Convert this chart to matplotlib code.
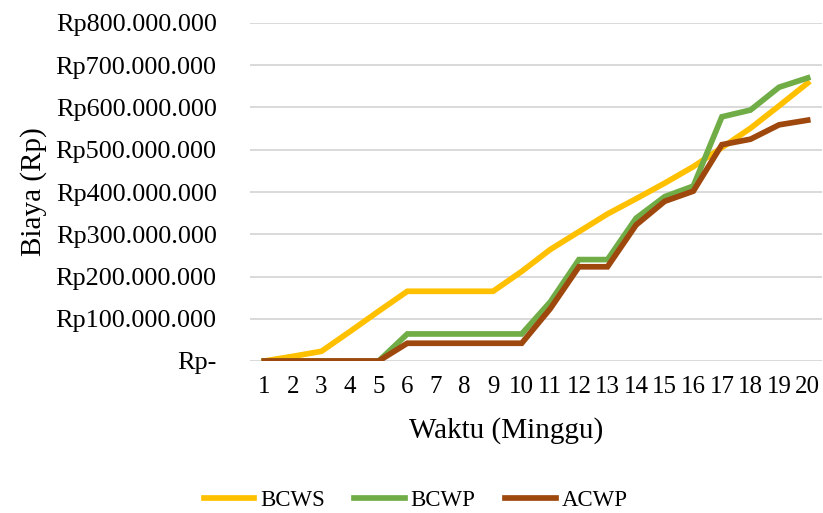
import matplotlib
matplotlib.use("Agg")
import matplotlib.pyplot as plt
from matplotlib.ticker import FuncFormatter, MultipleLocator

plt.rcParams['font.family'] = ['Liberation Serif', 'DejaVu Serif']

# minggu ke-
minggu = list(range(1, 21))

# nilai kumulatif (Rp)
bcws = [0, 11e6, 23e6, 70e6, 118e6, 165e6, 165e6, 165e6, 165e6, 212e6,
        264e6, 306e6, 348e6, 384e6, 421e6, 460e6, 505e6, 551e6, 604e6, 658e6]
bcwp = [0, 0, 0, 0, 0, 64e6, 64e6, 64e6, 64e6, 64e6,
        140e6, 240e6, 240e6, 338e6, 389e6, 414e6, 578e6, 594e6, 648e6, 670e6]
acwp = [0, 0, 0, 0, 0, 42e6, 42e6, 42e6, 42e6, 42e6,
        124e6, 223e6, 223e6, 322e6, 378e6, 402e6, 512e6, 525e6, 559e6, 570e6]

fig = plt.figure(figsize=(8.23, 5.13), dpi=100)
ax = fig.add_axes([250 / 823, 152 / 513, 572 / 823, 338 / 513])

lw = 4.1
ax.plot(minggu, bcws, color="#FFC000", lw=lw, label="BCWS", solid_joinstyle="miter")
ax.plot(minggu, bcwp, color="#70AD47", lw=lw, label="BCWP", solid_joinstyle="miter")
ax.plot(minggu, acwp, color="#9E480E", lw=lw, label="ACWP", solid_joinstyle="miter")

ax.set_xlim(0.5, 20.5)
ax.set_ylim(0, 800e6)
ax.set_xticks(minggu)
ax.yaxis.set_major_locator(MultipleLocator(100e6))


def rupiah(v, pos):
    if v == 0:
        return "Rp-"
    return "Rp" + f"{int(round(v)):,}".replace(",", ".")


ax.yaxis.set_major_formatter(FuncFormatter(rupiah))
ax.grid(axis="y", color="#D9D9D9", lw=1.4)
ax.set_axisbelow(True)
for s in ax.spines.values():
    s.set_visible(False)
ax.tick_params(axis="y", length=0, pad=24, labelsize=18.8)
ax.tick_params(axis="x", length=0, pad=11, labelsize=18)

ax.set_ylabel("Biaya (Rp)", fontsize=21)
ax.yaxis.set_label_coords(-0.355, 0.5)
ax.set_xlabel("Waktu (Minggu)", fontsize=21)
ax.xaxis.set_label_coords(0.448, -0.165)

fig.legend(loc="center", bbox_to_anchor=(0.505, 0.025), ncol=3, frameon=False,
           fontsize=16.5, handlelength=2.2, handletextpad=0.25, columnspacing=1.3)

fig.savefig("out.png", dpi=100)
